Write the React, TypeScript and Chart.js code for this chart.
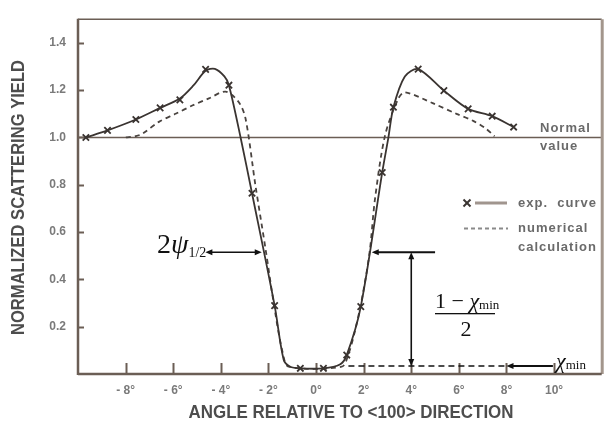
import React, { useEffect, useRef } from "react";
import { Chart, registerables } from "chart.js";

Chart.register(...registerables);

// ---------------- data ----------------
const expMarkerX = [-9.67, -8.76, -7.57, -6.55, -5.72, -4.64, -3.66, -2.69, -1.74, -0.66, 0.31, 1.29, 1.88, 2.78, 3.25, 4.29, 5.37, 6.39, 7.4, 8.3];
const expMarkerY = [1.0, 1.03, 1.076, 1.125, 1.159, 1.288, 1.221, 0.764, 0.289, 0.024, 0.024, 0.08, 0.285, 0.852, 1.128, 1.289, 1.198, 1.121, 1.09, 1.044];

const expCurveX = [-9.67, -8.76, -7.57, -6.55, -5.72, -5.15, -4.64, -4.25, -3.85, -3.66, -3.17, -2.69, -1.74, -1.36, -1.1, -0.66, 0.31, 1.0, 1.29, 1.88, 2.78, 3.04, 3.25, 3.73, 4.29, 5.37, 6.39, 7.4, 8.3];
const expCurveY = [1.0, 1.03, 1.076, 1.125, 1.165, 1.22, 1.282, 1.29, 1.258, 1.221, 1.0, 0.764, 0.289, 0.06, 0.032, 0.024, 0.024, 0.04, 0.08, 0.285, 0.852, 1.0, 1.128, 1.258, 1.289, 1.198, 1.121, 1.09, 1.044];

const calcX = [-7.99, -7.57, -7.29, -6.6, -5.9, -5.2, -4.5, -3.8, -3.25, -2.96, -2.55, -2.13, -1.71, -1.4, -1.15, 1.08, 1.35, 1.64, 1.95, 2.25, 2.48, 2.9, 3.45, 3.73, 4.9, 5.9, 6.6, 7.1, 7.5];
const calcY = [1.0, 1.006, 1.016, 1.066, 1.1, 1.135, 1.165, 1.194, 1.15, 1.079, 0.8, 0.534, 0.256, 0.09, 0.031, 0.031, 0.08, 0.184, 0.33, 0.515, 0.743, 1.009, 1.163, 1.191, 1.145, 1.1, 1.07, 1.04, 1.005];

const xTickValues = [-8, -6, -4, -2, 0, 2, 4, 6, 8, 10];
const xTickLabels = ["- 8°", "- 6°", "- 4°", "- 2°", "0°", "2°", "4°", "6°", "8°", "10°"];
const yTickValues = [0.2, 0.4, 0.6, 0.8, 1.0, 1.2, 1.4];
const yTickLabels = ["0.2", "0.4", "0.6", "0.8", "1.0", "1.2", "1.4"];

const normalValue = 1.0;
const halfLevel = 0.515;
const chiMinLevel = 0.034;

// annotation anchors (data units)
const psiArrow = [-4.65, -2.28];
const halfArrowRight = [5.0, 2.34];
const verticalArrowX = 4;
const chiLine = [1.36, 8.0];
const chiArrowStart = 9.95;

const FRAME = "#6b5e55";
const CURVE = "#3a3431";
const TXT = "#6a6a6a";

function seg(ctx: CanvasRenderingContext2D, x1: number, y1: number, x2: number, y2: number) {
  ctx.beginPath();
  ctx.moveTo(x1, y1);
  ctx.lineTo(x2, y2);
  ctx.stroke();
}

function head(ctx: CanvasRenderingContext2D, x: number, y: number, dx: number, dy: number) {
  const L = 7, W = 3;
  const px = -dy, py = dx;
  ctx.beginPath();
  ctx.moveTo(x, y);
  ctx.lineTo(x - dx * L + px * W, y - dy * L + py * W);
  ctx.lineTo(x - dx * L - px * W, y - dy * L - py * W);
  ctx.closePath();
  ctx.fill();
}

function stretched(ctx: CanvasRenderingContext2D, text: string, cx: number, cy: number, font: string, width: number, rot: number) {
  ctx.save();
  ctx.font = font;
  const w = ctx.measureText(text).width;
  ctx.translate(cx, cy);
  ctx.rotate(rot);
  ctx.scale(width / w, 1);
  ctx.textAlign = "center";
  ctx.textBaseline = "alphabetic";
  ctx.fillText(text, 0, 0);
  ctx.restore();
}

const decor = {
  id: "decor",
  beforeDatasetsDraw(chart: any) {
    const { ctx, chartArea: a, scales } = chart;
    const x = scales.x, y = scales.y;
    ctx.save();
    ctx.strokeStyle = FRAME;
    ctx.lineWidth = 1.6;
    const yn = y.getPixelForValue(normalValue);
    seg(ctx, a.left, yn, a.right, yn);
    // inward ticks
    ctx.lineWidth = 2;
    xTickValues.forEach((v) => {
      const px = Math.round(x.getPixelForValue(v)) + 0.5;
      seg(ctx, px, a.bottom, px, a.bottom - 11);
    });
    yTickValues.forEach((v) => {
      const py = Math.round(y.getPixelForValue(v)) + 0.5;
      seg(ctx, a.left, py, a.left + 6, py);
    });
    ctx.restore();
  },
  afterDraw(chart: any) {
    const { ctx, chartArea: a, scales } = chart;
    const x = scales.x, y = scales.y;
    ctx.save();
    // frame
    ctx.strokeStyle = FRAME;
    ctx.lineWidth = 1.5;
    seg(ctx, a.left, a.top, a.right, a.top);
    ctx.strokeStyle = "#a3968c";
    ctx.lineWidth = 3;
    seg(ctx, a.right + 0.5, a.top, a.right + 0.5, a.bottom);
    ctx.strokeStyle = FRAME;
    ctx.lineWidth = 2.5;
    seg(ctx, a.left, a.top - 0.5, a.left, a.bottom + 1);
    seg(ctx, a.left, a.bottom, a.right, a.bottom);

    // annotations
    ctx.strokeStyle = "#111";
    ctx.fillStyle = "#111";
    ctx.lineWidth = 1.6;
    const yh = y.getPixelForValue(halfLevel);
    const yc = y.getPixelForValue(chiMinLevel);
    const l1 = x.getPixelForValue(psiArrow[0]);
    const l2 = x.getPixelForValue(psiArrow[1]);
    seg(ctx, l1 + 3, yh, l2 - 3, yh);
    head(ctx, l1, yh, -1, 0);
    head(ctx, l2, yh, 1, 0);

    const r1 = x.getPixelForValue(halfArrowRight[0]);
    const r2 = x.getPixelForValue(halfArrowRight[1]);
    ctx.lineWidth = 2;
    seg(ctx, r1, yh, r2 + 3, yh);
    head(ctx, r2, yh, -1, 0);

    const vx = x.getPixelForValue(verticalArrowX);
    ctx.lineWidth = 1.6;
    seg(ctx, vx, yh + 3, vx, yc - 3);
    head(ctx, vx, yh, 0, -1);
    head(ctx, vx, yc, 0, 1);

    ctx.setLineDash([6, 4]);
    ctx.lineWidth = 1.5;
    seg(ctx, x.getPixelForValue(chiLine[0]), yc, x.getPixelForValue(chiLine[1]), yc);
    ctx.setLineDash([]);
    ctx.lineWidth = 2;
    const ca = x.getPixelForValue(chiArrowStart);
    const cb = x.getPixelForValue(chiLine[1]);
    seg(ctx, ca, yc, cb + 3, yc);
    head(ctx, cb, yc, -1, 0);

    // math labels
    ctx.fillStyle = "#111";
    ctx.textAlign = "left";
    ctx.textBaseline = "alphabetic";
    let cx = 157;
    ctx.font = '28px "Liberation Serif"';
    ctx.fillText("2", cx, 253);
    cx += ctx.measureText("2").width;
    ctx.font = 'italic 28px "Liberation Serif"';
    ctx.fillText("ψ", cx, 253);
    cx += ctx.measureText("ψ").width;
    ctx.font = '14px "Liberation Serif"';
    ctx.fillText("1/2", cx, 257);

    cx = 435;
    ctx.font = '22px "Liberation Serif"';
    ctx.fillText("1 − ", cx, 308);
    cx += ctx.measureText("1 − ").width;
    ctx.font = 'italic 22px "Liberation Serif"';
    ctx.fillText("χ", cx, 308);
    cx += ctx.measureText("χ").width;
    ctx.font = '13px "Liberation Serif"';
    ctx.fillText("min", cx, 309);
    ctx.fillRect(435, 313, 60, 1.3);
    ctx.font = '22px "Liberation Serif"';
    ctx.textAlign = "center";
    ctx.fillText("2", 466, 336);
    ctx.textAlign = "left";

    cx = 556;
    ctx.font = 'italic 22px "Liberation Serif"';
    ctx.fillText("χ", cx, 368);
    cx += ctx.measureText("χ").width;
    ctx.font = '13px "Liberation Serif"';
    ctx.fillText("min", cx, 369);

    // gray side texts and legend
    ctx.fillStyle = TXT;
    ctx.font = 'bold 13px "Liberation Sans"';
    (ctx as any).letterSpacing = "1px";
    ctx.fillText("Normal", 540, 132);
    ctx.fillText("value", 540, 150);
    ctx.fillText("exp.  curve", 518, 207);
    ctx.fillText("numerical", 518, 232);
    ctx.fillText("calculation", 518, 251);
    (ctx as any).letterSpacing = "0px";

    ctx.strokeStyle = "#a0958e";
    ctx.lineWidth = 3;
    seg(ctx, 475, 203, 507, 203);
    ctx.strokeStyle = CURVE;
    ctx.lineWidth = 2;
    seg(ctx, 463.5, 199.5, 470.5, 206.5);
    seg(ctx, 463.5, 206.5, 470.5, 199.5);
    ctx.strokeStyle = "#8a8a8a";
    ctx.setLineDash([4, 3]);
    seg(ctx, 464, 228.5, 508, 228.5);
    ctx.setLineDash([]);

    // axis titles
    ctx.fillStyle = "#4d4d4d";
    stretched(ctx, "NORMALIZED SCATTERING YIELD", 24, 197.5, 'bold 19px "Liberation Sans"', 275, -Math.PI / 2);
    stretched(ctx, "ANGLE RELATIVE TO <100> DIRECTION", 351, 418, 'bold 19px "Liberation Sans"', 325, 0);
    ctx.restore();
  },
};

export default function App() {
  const ref = useRef<HTMLCanvasElement>(null);
  useEffect(() => {
    if (!ref.current) return;
    const chart = new Chart(ref.current, {
      type: "line",
      data: {
        datasets: [
          {
            label: "exp. curve",
            data: expCurveX.map((v, i) => ({ x: v, y: expCurveY[i] })),
            borderColor: CURVE,
            borderWidth: 1.8,
            pointRadius: 0,
            tension: 0.3,
            fill: false,
          },
          {
            label: "exp. points",
            data: expMarkerX.map((v, i) => ({ x: v, y: expMarkerY[i] })),
            showLine: false,
            pointStyle: "crossRot",
            pointRadius: 4.5,
            pointBorderWidth: 1.8,
            borderColor: CURVE,
            backgroundColor: CURVE,
          },
          {
            label: "numerical calculation",
            data: calcX.map((v, i) => ({ x: v, y: calcY[i] })),
            borderColor: "#4a4440",
            borderWidth: 1.8,
            borderDash: [5, 4],
            pointRadius: 0,
            tension: 0.3,
            fill: false,
          },
        ],
      },
      options: {
        responsive: false,
        animation: false,
        devicePixelRatio: 1,
        layout: { padding: { top: 15, right: 4, left: 0, bottom: 0 } },
        plugins: { legend: { display: false }, tooltip: { enabled: false } },
        scales: {
          x: {
            type: "linear",
            min: -10,
            max: 12,
            grid: { display: false, drawTicks: false },
            border: { display: false },
            afterBuildTicks: (axis: any) => {
              axis.ticks = xTickValues.map((v) => ({ value: v }));
            },
            afterFit: (axis: any) => {
              axis.height = 50;
            },
            ticks: {
              autoSkip: false,
              maxRotation: 0,
              padding: 9,
              color: "#7a7a7a",
              font: { family: "Liberation Sans", size: 12, weight: "bold" },
              callback: (v: any) => {
                const i = xTickValues.indexOf(Number(v));
                return i >= 0 ? xTickLabels[i] : "";
              },
            },
          },
          y: {
            type: "linear",
            min: 0,
            max: 1.5,
            grid: { display: false, drawTicks: false },
            border: { display: false },
            afterBuildTicks: (axis: any) => {
              axis.ticks = yTickValues.map((v) => ({ value: v }));
            },
            afterFit: (axis: any) => {
              axis.width = 78;
            },
            ticks: {
              autoSkip: false,
              padding: 12,
              color: "#7a7a7a",
              font: { family: "Liberation Sans", size: 12, weight: "bold" },
              callback: (v: any) => {
                const i = yTickValues.findIndex((t) => Math.abs(t - Number(v)) < 1e-6);
                return i >= 0 ? yTickLabels[i] : "";
              },
            },
          },
        },
      },
      plugins: [decor],
    } as any);
    return () => chart.destroy();
  }, []);
  return (
    <div style={{ position: "fixed", left: 0, top: 0, width: 608, height: 424, background: "#fff" }}>
      <canvas ref={ref} width={608} height={424} style={{ display: "block" }} />
    </div>
  );
}
